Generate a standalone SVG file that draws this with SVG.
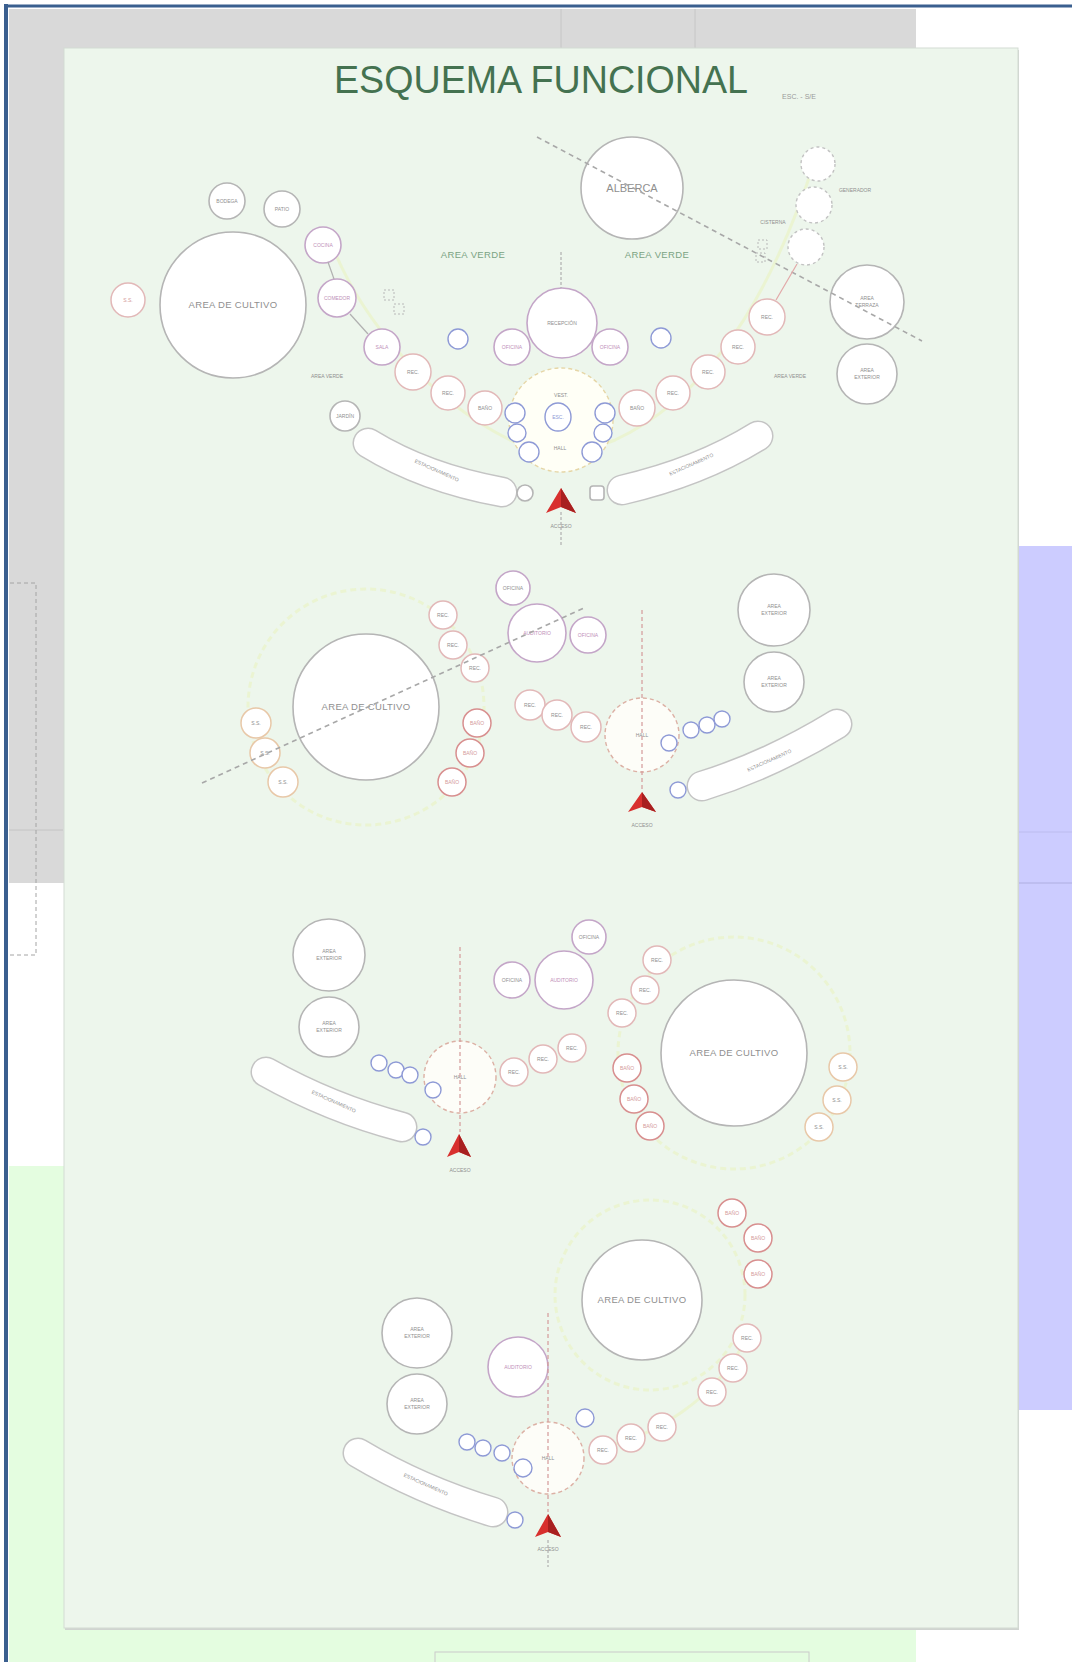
<svg xmlns="http://www.w3.org/2000/svg" width="1072" height="1662" viewBox="0 0 1072 1662">
<defs>
<style>
.g{fill:#fff;stroke:#b5b5b5;stroke-width:1.6}
.p{fill:#fff;stroke:#c4a6c8;stroke-width:1.6}
.r{fill:#fff;stroke:#e2b8b8;stroke-width:1.5}
.rd{fill:#fff;stroke:#d88f8f;stroke-width:1.5}
.o{fill:#fff;stroke:#e8c8a8;stroke-width:1.5}
.b{fill:#fff;stroke:#8e9ad6;stroke-width:1.4}
.dc{fill:#fff;stroke:#c2c2c2;stroke-width:1.4;stroke-dasharray:3 3}
.hall{fill:#fffff6;stroke:#e6d6a6;stroke-width:1.4;stroke-dasharray:4 3}
.hall2{fill:#fdfdf8;stroke:#dcb0a4;stroke-width:1.4;stroke-dasharray:4 3}
.lime{fill:none;stroke:#eaf3c8;stroke-width:3;opacity:.7}
.axis{fill:none;stroke:#d49a9a;stroke-width:1.2;stroke-dasharray:4 3}
.dash{fill:none;stroke:#a8a8a8;stroke-width:1.6;stroke-dasharray:5 4}
.ln{fill:none;stroke:#b0b0b0;stroke-width:1.2}
.pillo{fill:none;stroke:#c4c4c4;stroke-width:31;stroke-linecap:round}
.pilli{fill:none;stroke:#fff;stroke-width:28;stroke-linecap:round}
.arrow{fill:#d8302e}
.t{font-family:"Liberation Sans",Arial,sans-serif;fill:#8f8f8f;text-anchor:middle}
.s{font-size:5px}
.tp{fill:#c08fb8}
.tr{fill:#d49a9a}
.tb{fill:#8e9ad6}
.big{font-size:9.5px;letter-spacing:.3px}
.av{font-family:"Liberation Sans",Arial,sans-serif;font-size:9.5px;fill:#7aa383;text-anchor:middle;letter-spacing:.4px}
</style>
</defs>

<!-- backgrounds -->
<rect width="1072" height="1662" fill="#fff"/>
<rect x="9" y="9" width="907" height="874" fill="#d9d9d9"/>
<line x1="561" y1="9" x2="561" y2="48" stroke="#c6c6c6"/>
<line x1="695" y1="9" x2="695" y2="48" stroke="#c6c6c6"/>
<line x1="9" y1="830" x2="63" y2="830" stroke="#c4c4c4"/>
<rect x="9" y="1166" width="907" height="496" fill="#e4fde0"/>
<rect x="1018" y="546" width="54" height="864" fill="#ccccff"/>
<line x1="1018" y1="832" x2="1072" y2="832" stroke="#bcbcee"/>
<line x1="1018" y1="883" x2="1072" y2="883" stroke="#aeaee0"/>
<rect x="65" y="50" width="954" height="1580" fill="#d0d4d0"/>
<rect x="64" y="48" width="954" height="1580" fill="#edf6ec" stroke="#d3dbd3"/>
<path d="M10,583 H36 V955 H10" fill="none" stroke="#a4a4a4" stroke-dasharray="4 3"/>
<rect x="435" y="1652" width="374" height="14" fill="none" stroke="#cacaca"/>
<line x1="4" y1="6" x2="1072" y2="6" stroke="#3a5f8f" stroke-width="3"/>
<line x1="6" y1="4" x2="6" y2="1662" stroke="#3a5f8f" stroke-width="4"/>

<g id="title">
<text x="541" y="93" font-family="Liberation Sans, Arial, sans-serif" font-size="38" fill="#447250" text-anchor="middle" textLength="414" lengthAdjust="spacingAndGlyphs">ESQUEMA FUNCIONAL</text>
<text x="799" y="99" font-family="Liberation Sans, Arial, sans-serif" font-size="7" fill="#9a9a9a" text-anchor="middle">ESC. - S/E</text>
</g>

<!-- faint zone outlines -->
<g id="zones">
<path class="lime" d="M330,240 C360,320 430,400 510,440 C545,455 580,455 615,440 C690,405 760,330 815,160"/>
<circle class="lime" cx="366" cy="707" r="118" stroke-dasharray="6 4"/>
<circle class="lime" cx="734" cy="1053" r="116" stroke-dasharray="6 4"/>
<circle class="lime" cx="650" cy="1295" r="95" stroke-dasharray="6 4"/>
<path class="lime" d="M590,1450 C650,1440 720,1400 750,1330"/>
</g>

<!-- ===== SECTION 1 ===== -->
<g id="s1-pill-left"><path class="pillo" d="M368,443 Q425,478 502,492"/><path class="pilli" d="M368,443 Q425,478 502,492"/><text class="t s" transform="translate(436,472) rotate(24)">ESTACIONAMIENTO</text></g>
<g id="s1-pill-right"><path class="pillo" d="M622,490 Q700,472 758,436"/><path class="pilli" d="M622,490 Q700,472 758,436"/><text class="t s" transform="translate(692,466) rotate(-24)">ESTACIONAMIENTO</text></g>
<g id="s1-cultivo"><circle class="g" cx="233" cy="305" r="73"/><text class="t big" x="233" y="308">AREA DE CULTIVO</text></g>
<g id="s1-n1"><circle class="r" cx="128" cy="300" r="17"/><text class="t s tr" x="128" y="302">S.S.</text></g>
<g id="s1-n2"><circle class="g" cx="227" cy="201" r="18"/><text class="t s" x="227" y="203">BODEGA</text></g>
<g id="s1-n3"><circle class="g" cx="282" cy="209" r="18"/><text class="t s" x="282" y="211">PATIO</text></g>
<g id="s1-n4"><circle class="p" cx="323" cy="245" r="18"/><text class="t s tp" x="323" y="247">COCINA</text></g>
<g id="s1-n5"><circle class="p" cx="337" cy="298" r="19"/><text class="t s tp" x="337" y="300">COMEDOR</text></g>
<g id="s1-n6"><circle class="p" cx="382" cy="347" r="18"/><text class="t s tp" x="382" y="349">SALA</text></g>
<g id="s1-n7"><circle class="r" cx="413" cy="372" r="18"/><text class="t s" x="413" y="374">REC.</text></g>
<g id="s1-n8"><circle class="r" cx="448" cy="393" r="17"/><text class="t s" x="448" y="395">REC.</text></g>
<g id="s1-n9"><circle class="r" cx="485" cy="408" r="17"/><text class="t s" x="485" y="410">BAÑO</text></g>
<g id="s1-n10"><rect x="384" y="290" width="10" height="10" fill="none" stroke="#b8b8b8" stroke-dasharray="2 2"/><rect x="394" y="304" width="10" height="10" fill="none" stroke="#b8b8b8" stroke-dasharray="2 2"/></g>
<g id="s1-b1"><circle class="b" cx="458" cy="339" r="10"/></g>
<g id="s1-recep"><circle class="p" cx="562" cy="323" r="35"/><text class="t s" x="562" y="325">RECEPCIÓN</text></g>
<g id="s1-sl"><circle class="p" cx="512" cy="347" r="18"/><text class="t s tp" x="512" y="349">OFICINA</text></g>
<g id="s1-sr"><circle class="p" cx="610" cy="347" r="18"/><text class="t s tp" x="610" y="349">OFICINA</text></g>
<g id="s1-b2"><circle class="b" cx="661" cy="338" r="10"/></g>
<g id="s1-hall"><circle class="hall" cx="561" cy="420" r="52"/><text class="t s" x="561" y="397">VEST.</text><ellipse class="b" cx="558" cy="417" rx="13" ry="14"/><text class="t s tb" x="558" y="419">ESC.</text><text class="t s" x="560" y="450">HALL</text></g>
<g id="s1-bl"><circle class="b" cx="515" cy="413" r="10"/><circle class="b" cx="517" cy="433" r="9"/><circle class="b" cx="529" cy="452" r="10"/></g>
<g id="s1-br"><circle class="b" cx="605" cy="413" r="10"/><circle class="b" cx="603" cy="433" r="9"/><circle class="b" cx="592" cy="452" r="10"/></g>
<g id="s1-n11"><circle class="r" cx="637" cy="408" r="18"/><text class="t s" x="637" y="410">BAÑO</text></g>
<g id="s1-n12"><circle class="r" cx="673" cy="393" r="17"/><text class="t s" x="673" y="395">REC.</text></g>
<g id="s1-n13"><circle class="r" cx="708" cy="372" r="17"/><text class="t s" x="708" y="374">REC.</text></g>
<g id="s1-n14"><circle class="r" cx="738" cy="347" r="17"/><text class="t s" x="738" y="349">REC.</text></g>
<g id="s1-n15"><circle class="r" cx="767" cy="317" r="18"/><text class="t s" x="767" y="319">REC.</text></g>
<g id="s1-alberca"><circle class="g" cx="632" cy="188" r="51"/><text class="t" x="632" y="192" font-size="11">ALBERCA</text></g>
<g id="s1-d1"><circle class="dc" cx="818" cy="164" r="17"/></g>
<g id="s1-d2"><circle class="dc" cx="814" cy="205" r="18"/></g>
<g id="s1-d3"><circle class="dc" cx="806" cy="247" r="18"/></g>
<g id="s1-sq"><rect x="758" y="240" width="9" height="9" fill="none" stroke="#b8b8b8" stroke-dasharray="2 2"/><rect x="756" y="253" width="9" height="9" fill="none" stroke="#b8b8b8" stroke-dasharray="2 2"/></g>
<g id="s1-lab1"><text class="t s" x="855" y="192" fill="#777">GENERADOR</text></g>
<g id="s1-lab2"><text class="t s" x="773" y="224" fill="#777">CISTERNA</text></g>
<g id="s1-ext1"><circle class="g" cx="867" cy="302" r="37"/><text class="t s" x="867" y="300">AREA</text><text class="t s" x="867" y="307">TERRAZA</text></g>
<g id="s1-ext2"><circle class="g" cx="867" cy="374" r="30"/><text class="t s" x="867" y="372">AREA</text><text class="t s" x="867" y="379">EXTERIOR</text></g>
<g id="s1-av1"><text class="av" x="473" y="258">AREA VERDE</text></g>
<g id="s1-av2"><text class="av" x="657" y="258">AREA VERDE</text></g>
<g id="s1-av3"><text class="t s" x="327" y="378">AREA VERDE</text></g>
<g id="s1-av4"><text class="t s" x="790" y="378">AREA VERDE</text></g>
<g id="s1-k"><circle class="g" cx="345" cy="416" r="15"/><text class="t s" x="345" y="418">JARDÍN</text></g>
<g id="s1-c1"><circle class="g" cx="525" cy="493" r="8"/></g>
<g id="s1-c2"><rect class="g" x="590" y="486" width="14" height="14" rx="3"/></g>
<g id="s1-acceso"><polygon class="arrow" points="561,488 576,513 561,507 546,513"/><polygon points="561,488 561,507 576,513" fill="#a82020"/><text class="t s" x="561" y="528" fill="#666">ACCESO</text></g>

<!-- ===== SECTION 2 ===== -->
<g id="s2-cultivo"><circle class="g" cx="366" cy="707" r="73"/><text class="t big" x="366" y="710">AREA DE CULTIVO</text></g>
<g id="s2-l1"><circle class="o" cx="256" cy="723" r="15"/><text class="t s" x="256" y="725">S.S.</text></g>
<g id="s2-l2"><circle class="o" cx="265" cy="753" r="15"/><text class="t s" x="265" y="755">S.S.</text></g>
<g id="s2-l3"><circle class="o" cx="283" cy="782" r="15"/><text class="t s" x="283" y="784">S.S.</text></g>
<g id="s2-u1"><circle class="r" cx="443" cy="615" r="14"/><text class="t s" x="443" y="617">REC.</text></g>
<g id="s2-u2"><circle class="r" cx="453" cy="645" r="14"/><text class="t s" x="453" y="647">REC.</text></g>
<g id="s2-u3"><circle class="r" cx="475" cy="668" r="14"/><text class="t s" x="475" y="670">REC.</text></g>
<g id="s2-r1"><circle class="rd" cx="477" cy="723" r="14"/><text class="t s tr" x="477" y="725">BAÑO</text></g>
<g id="s2-r2"><circle class="rd" cx="470" cy="753" r="14"/><text class="t s tr" x="470" y="755">BAÑO</text></g>
<g id="s2-r3"><circle class="rd" cx="452" cy="782" r="14"/><text class="t s tr" x="452" y="784">BAÑO</text></g>
<g id="s2-p1"><circle class="p" cx="513" cy="588" r="17"/><text class="t s" x="513" y="590">OFICINA</text></g>
<g id="s2-p2"><circle class="p" cx="537" cy="633" r="29"/><text class="t s tp" x="537" y="635">AUDITORIO</text></g>
<g id="s2-p3"><circle class="p" cx="588" cy="635" r="18"/><text class="t s tp" x="588" y="637">OFICINA</text></g>
<g id="s2-c1"><circle class="r" cx="530" cy="705" r="15"/><text class="t s" x="530" y="707">REC.</text></g>
<g id="s2-c2"><circle class="r" cx="557" cy="715" r="15"/><text class="t s" x="557" y="717">REC.</text></g>
<g id="s2-c3"><circle class="r" cx="586" cy="727" r="15"/><text class="t s" x="586" y="729">REC.</text></g>
<g id="s2-hall"><circle class="hall2" cx="642" cy="735" r="37"/><text class="t s" x="642" y="737">HALL</text></g>
<g id="s2-b"><circle class="b" cx="669" cy="743" r="8"/><circle class="b" cx="691" cy="730" r="8"/><circle class="b" cx="707" cy="725" r="8"/><circle class="b" cx="722" cy="719" r="8"/></g>
<g id="s2-e1"><circle class="g" cx="774" cy="610" r="36"/><text class="t s" x="774" y="608">AREA</text><text class="t s" x="774" y="615">EXTERIOR</text></g>
<g id="s2-e2"><circle class="g" cx="774" cy="682" r="30"/><text class="t s" x="774" y="680">AREA</text><text class="t s" x="774" y="687">EXTERIOR</text></g>
<g id="s2-pill"><path class="pillo" d="M702,786 Q770,765 837,724"/><path class="pilli" d="M702,786 Q770,765 837,724"/><text class="t s" transform="translate(770,762) rotate(-24)">ESTACIONAMIENTO</text></g>
<g id="s2-sm"><circle class="b" cx="678" cy="790" r="8" stroke="#a8b0d0"/></g>
<g id="s2-acceso"><polygon class="arrow" points="642,792 656,812 642,807 628,812"/><polygon points="642,792 642,807 656,812" fill="#a82020"/><text class="t s" x="642" y="827" fill="#666">ACCESO</text></g>

<!-- ===== SECTION 3 ===== -->
<g id="s3-e1"><circle class="g" cx="329" cy="955" r="36"/><text class="t s" x="329" y="953">AREA</text><text class="t s" x="329" y="960">EXTERIOR</text></g>
<g id="s3-e2"><circle class="g" cx="329" cy="1027" r="30"/><text class="t s" x="329" y="1025">AREA</text><text class="t s" x="329" y="1032">EXTERIOR</text></g>
<g id="s3-hall"><circle class="hall2" cx="460" cy="1077" r="36"/><text class="t s" x="460" y="1079">HALL</text></g>
<g id="s3-b"><circle class="b" cx="379" cy="1063" r="8"/><circle class="b" cx="396" cy="1070" r="8"/><circle class="b" cx="410" cy="1075" r="8"/><circle class="b" cx="433" cy="1090" r="8"/></g>
<g id="s3-pill"><path class="pillo" d="M266,1072 Q330,1108 402,1127"/><path class="pilli" d="M266,1072 Q330,1108 402,1127"/><text class="t s" transform="translate(333,1103) rotate(24)">ESTACIONAMIENTO</text></g>
<g id="s3-sm"><circle class="b" cx="423" cy="1137" r="8" stroke="#a8b0d0"/></g>
<g id="s3-acceso"><polygon class="arrow" points="459,1134 471,1157 459,1152 447,1157"/><polygon points="459,1134 459,1152 471,1157" fill="#a82020"/><text class="t s" x="460" y="1172" fill="#666">ACCESO</text></g>
<g id="s3-c1"><circle class="r" cx="514" cy="1072" r="14"/><text class="t s" x="514" y="1074">REC.</text></g>
<g id="s3-c2"><circle class="r" cx="543" cy="1059" r="14"/><text class="t s" x="543" y="1061">REC.</text></g>
<g id="s3-c3"><circle class="r" cx="572" cy="1048" r="14"/><text class="t s" x="572" y="1050">REC.</text></g>
<g id="s3-p1"><circle class="p" cx="589" cy="937" r="17"/><text class="t s" x="589" y="939">OFICINA</text></g>
<g id="s3-p2"><circle class="p" cx="564" cy="980" r="29"/><text class="t s tp" x="564" y="982">AUDITORIO</text></g>
<g id="s3-p3"><circle class="p" cx="512" cy="980" r="18"/><text class="t s" x="512" y="982">OFICINA</text></g>
<g id="s3-u1"><circle class="r" cx="657" cy="960" r="14"/><text class="t s" x="657" y="962">REC.</text></g>
<g id="s3-u2"><circle class="r" cx="645" cy="990" r="14"/><text class="t s" x="645" y="992">REC.</text></g>
<g id="s3-u3"><circle class="r" cx="622" cy="1013" r="14"/><text class="t s" x="622" y="1015">REC.</text></g>
<g id="s3-r1"><circle class="rd" cx="627" cy="1068" r="14"/><text class="t s tr" x="627" y="1070">BAÑO</text></g>
<g id="s3-r2"><circle class="rd" cx="634" cy="1099" r="14"/><text class="t s tr" x="634" y="1101">BAÑO</text></g>
<g id="s3-r3"><circle class="rd" cx="650" cy="1126" r="14"/><text class="t s tr" x="650" y="1128">BAÑO</text></g>
<g id="s3-cultivo"><circle class="g" cx="734" cy="1053" r="73"/><text class="t big" x="734" y="1056">AREA DE CULTIVO</text></g>
<g id="s3-o1"><circle class="o" cx="843" cy="1067" r="14"/><text class="t s" x="843" y="1069">S.S.</text></g>
<g id="s3-o2"><circle class="o" cx="837" cy="1100" r="14"/><text class="t s" x="837" y="1102">S.S.</text></g>
<g id="s3-o3"><circle class="o" cx="819" cy="1127" r="14"/><text class="t s" x="819" y="1129">S.S.</text></g>

<!-- ===== SECTION 4 ===== -->
<g id="s4-r1"><circle class="rd" cx="732" cy="1213" r="14"/><text class="t s tr" x="732" y="1215">BAÑO</text></g>
<g id="s4-r2"><circle class="rd" cx="758" cy="1238" r="14"/><text class="t s tr" x="758" y="1240">BAÑO</text></g>
<g id="s4-r3"><circle class="rd" cx="758" cy="1274" r="14"/><text class="t s tr" x="758" y="1276">BAÑO</text></g>
<g id="s4-cultivo"><circle class="g" cx="642" cy="1300" r="60"/><text class="t big" x="642" y="1303">AREA DE CULTIVO</text></g>
<g id="s4-e1"><circle class="g" cx="417" cy="1333" r="35"/><text class="t s" x="417" y="1331">AREA</text><text class="t s" x="417" y="1338">EXTERIOR</text></g>
<g id="s4-e2"><circle class="g" cx="417" cy="1404" r="30"/><text class="t s" x="417" y="1402">AREA</text><text class="t s" x="417" y="1409">EXTERIOR</text></g>
<g id="s4-p1"><circle class="p" cx="518" cy="1367" r="30"/><text class="t s tp" x="518" y="1369">AUDITORIO</text></g>
<g id="s4-hall"><circle class="hall2" cx="548" cy="1458" r="36"/><text class="t s" x="548" y="1460">HALL</text></g>
<g id="s4-b"><circle class="b" cx="467" cy="1442" r="8"/><circle class="b" cx="483" cy="1448" r="8"/><circle class="b" cx="502" cy="1453" r="8"/><circle class="b" cx="523" cy="1468" r="9"/></g>
<g id="s4-b2"><circle class="b" cx="585" cy="1418" r="9" stroke="#a8b4de"/></g>
<g id="s4-c1"><circle class="r" cx="603" cy="1450" r="14"/><text class="t s" x="603" y="1452">REC.</text></g>
<g id="s4-c2"><circle class="r" cx="631" cy="1438" r="14"/><text class="t s" x="631" y="1440">REC.</text></g>
<g id="s4-c3"><circle class="r" cx="662" cy="1427" r="14"/><text class="t s" x="662" y="1429">REC.</text></g>
<g id="s4-c4"><circle class="r" cx="712" cy="1392" r="14"/><text class="t s" x="712" y="1394">REC.</text></g>
<g id="s4-c5"><circle class="r" cx="733" cy="1368" r="14"/><text class="t s" x="733" y="1370">REC.</text></g>
<g id="s4-c6"><circle class="r" cx="747" cy="1338" r="14"/><text class="t s" x="747" y="1340">REC.</text></g>
<g id="s4-pill"><path class="pillo" d="M358,1453 Q420,1490 493,1512"/><path class="pilli" d="M358,1453 Q420,1490 493,1512"/><text class="t s" transform="translate(425,1486) rotate(24)">ESTACIONAMIENTO</text></g>
<g id="s4-sm"><circle class="b" cx="515" cy="1520" r="8" stroke="#a8b0d0"/></g>
<g id="s4-acceso"><polygon class="arrow" points="548,1514 561,1537 548,1532 535,1537"/><polygon points="548,1514 548,1532 561,1537" fill="#a82020"/><text class="t s" x="548" y="1551" fill="#666">ACCESO</text></g>

<!-- connectors (drawn over the nodes, as in the reference) -->
<g id="connectors">
<line class="dash" x1="537" y1="137" x2="922" y2="341"/>
<line class="dash" x1="202" y1="783" x2="586" y2="607"/>
<line class="ln" x1="561" y1="252" x2="561" y2="288" stroke-dasharray="3 2"/>
<line class="ln" x1="561" y1="512" x2="561" y2="545" stroke-dasharray="3 2"/>
<line class="ln" x1="328" y1="262" x2="334" y2="279"/>
<line class="ln" x1="350" y1="314" x2="368" y2="334"/>
<line x1="797" y1="264" x2="776" y2="300" stroke="#e2a8a8" stroke-width="1.2"/>
<line class="axis" x1="642" y1="610" x2="642" y2="790"/>
<line class="axis" x1="460" y1="947" x2="460" y2="1132"/>
<line class="axis" x1="548" y1="1313" x2="548" y2="1512"/>
<line class="ln" x1="548" y1="1540" x2="548" y2="1567" stroke-dasharray="3 2"/>
</g>
</svg>
